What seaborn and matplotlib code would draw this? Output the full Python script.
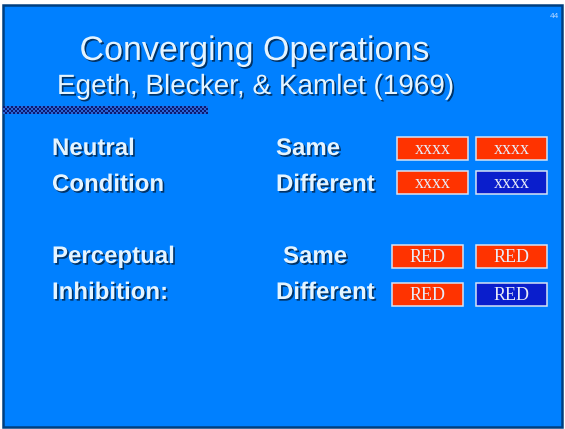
import numpy as np
import matplotlib
matplotlib.use("Agg")
import matplotlib.pyplot as plt
import matplotlib.patches as mpatches
import matplotlib.patheffects as pe
import seaborn as sns

# ---- content ----
title = "Converging Operations"
subtitle = "Egeth, Blecker, & Kamlet (1969)"
page_number = "44"
condition_labels = [["Neutral", "Condition"], ["Perceptual", "Inhibition:"]]
trial_labels = ["Same", "Different"]
stimulus_words = ["xxxx", "RED"]
# ink colour of the two stimuli per trial (first / second), per condition
box_colors = [
    [["red", "red"], ["red", "blue"]],
    [["red", "red"], ["red", "blue"]],
]

sns.set_theme(style="white")
plt.rcParams["font.family"] = ["Liberation Sans", "DejaVu Sans"]

W, H = 565, 429
fig = plt.figure(figsize=(W / 100, H / 100), dpi=100)
fig.patch.set_facecolor("white")
ax = fig.add_axes([0, 0, 1, 1])
ax.set_xlim(0, W)
ax.set_ylim(H, 0)
ax.axis("off")

BG = "#0080FF"
BORDER = "#003f7f"
TXT = "#E4F4FF"
SHADOW = "#002a55"
fill_map = {"red": "#FF3300", "blue": "#0A1ECC"}

# slide background + border
ax.add_patch(mpatches.Rectangle((3, 5), 559, 422, facecolor=BG,
                                edgecolor=BORDER, lw=1.8, zorder=0))

shadow = [pe.withSimplePatchShadow(offset=(1.2, -1.2), shadow_rgbFace=SHADOW, alpha=0.9)]

# title block
ax.text(254.5, 60, title, ha="center", va="baseline", fontsize=24.5,
        color=TXT, path_effects=shadow, zorder=3)
ax.text(255, 94, subtitle, ha="center", va="baseline", fontsize=20.1,
        color=TXT, path_effects=shadow, zorder=3)
ax.text(554, 18, page_number, ha="center", va="baseline", fontsize=6,
        color="#B8D8FF", zorder=3)

# checkered rule
ncols, nrows = 102, 4
chk = (np.add.outer(np.arange(nrows), np.arange(ncols)) % 2).astype(float)
cmap = matplotlib.colors.ListedColormap(["#0b1a70", "#2a66d8"])
ax.imshow(chk, cmap=cmap, interpolation="nearest", aspect="auto",
          extent=(3, 208, 114, 106), zorder=2)

# condition rows
label_x = 52
baselines = [[155, 191], [263, 299]]
trial_x = [[276, 276], [283, 276]]
box_x = [[[397, 476], [397, 476]], [[392, 476], [392, 476]]]
box_top = [[137, 171], [245, 283]]
box_w, box_h = 71, 23

for c, cond in enumerate(condition_labels):
    for r in range(2):
        ax.text(label_x, baselines[c][r], cond[r], ha="left", va="baseline",
                fontsize=17.3, fontweight="bold", color=TXT,
                path_effects=shadow, zorder=3)
        ax.text(trial_x[c][r], baselines[c][r], trial_labels[r], ha="left",
                va="baseline", fontsize=17.3, fontweight="bold", color=TXT,
                path_effects=shadow, zorder=3)
        for k in range(2):
            x0 = box_x[c][r][k]
            y0 = box_top[c][r]
            ax.add_patch(mpatches.Rectangle(
                (x0, y0), box_w, box_h,
                facecolor=fill_map[box_colors[c][r][k]],
                edgecolor="#D6E2F4", lw=1.1, zorder=2))
            ax.text(x0 + box_w / 2, y0 + box_h / 2 + 0.5, stimulus_words[c],
                    ha="center", va="center", fontsize=13,
                    family=["Liberation Serif", "DejaVu Serif"],
                    color="#E8ECF8", zorder=3)

fig.savefig("out.png", dpi=100, facecolor="white")
